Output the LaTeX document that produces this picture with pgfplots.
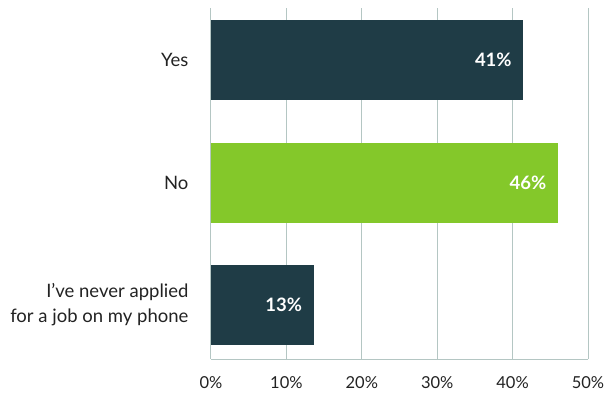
\documentclass[border=0pt]{standalone}
\usepackage{fontspec}
\setmainfont{Lato}
\usepackage{pgfplots}
\pgfplotsset{compat=1.18}
\definecolor{darkbar}{HTML}{1F3C46}
\definecolor{limebar}{HTML}{84C82A}
\definecolor{gridc}{HTML}{B4C6C3}
\definecolor{txt}{HTML}{222222}
\begin{document}
\begin{tikzpicture}
\begin{axis}[
 at={(0,0)}, anchor=south west,
 scale only axis, width=377pt, height=351pt,
 xmin=0, xmax=50, ymin=-0.424, ymax=2.44, y dir=reverse,
 xtick={0,10,20,30,40,50},
 xticklabels={0\%,10\%,20\%,30\%,40\%,50\%},
 ytick={0,1,2},
 yticklabels={Yes,No,{I’ve never applied\\for a job on my phone}},
 major tick length=0pt,
 xmajorgrids, grid style={gridc, line width=1pt},
 axis x line*=bottom, axis y line*=left,
 axis line style={gridc, line width=1pt, -},
 xbar, bar width=80pt, bar shift=0pt,
 xticklabel style={font=\fontsize{16.5}{20}\selectfont, text=txt, yshift=-14pt},
 yticklabel style={font=\fontsize{18.5}{25}\selectfont, text=txt, align=right, xshift=-19pt},
 nodes near coords,
 point meta=explicit symbolic,
 nodes near coords style={anchor=east, xshift=-8pt, text=white, font=\bfseries\fontsize{18.5}{22}\selectfont},
]
\addplot[fill=darkbar, draw=none] table[meta=lbl] {
x y lbl
41.4 0 41\%
};
\addplot[fill=limebar, draw=none] table[meta=lbl] {
x y lbl
46.0 1 46\%
};
\addplot[fill=darkbar, draw=none] table[meta=lbl] {
x y lbl
13.6 2 13\%
};
\end{axis}
\pgfresetboundingbox
\path[use as bounding box] (-211pt,-35pt) rectangle (396pt,359pt);
\end{tikzpicture}
\end{document}
